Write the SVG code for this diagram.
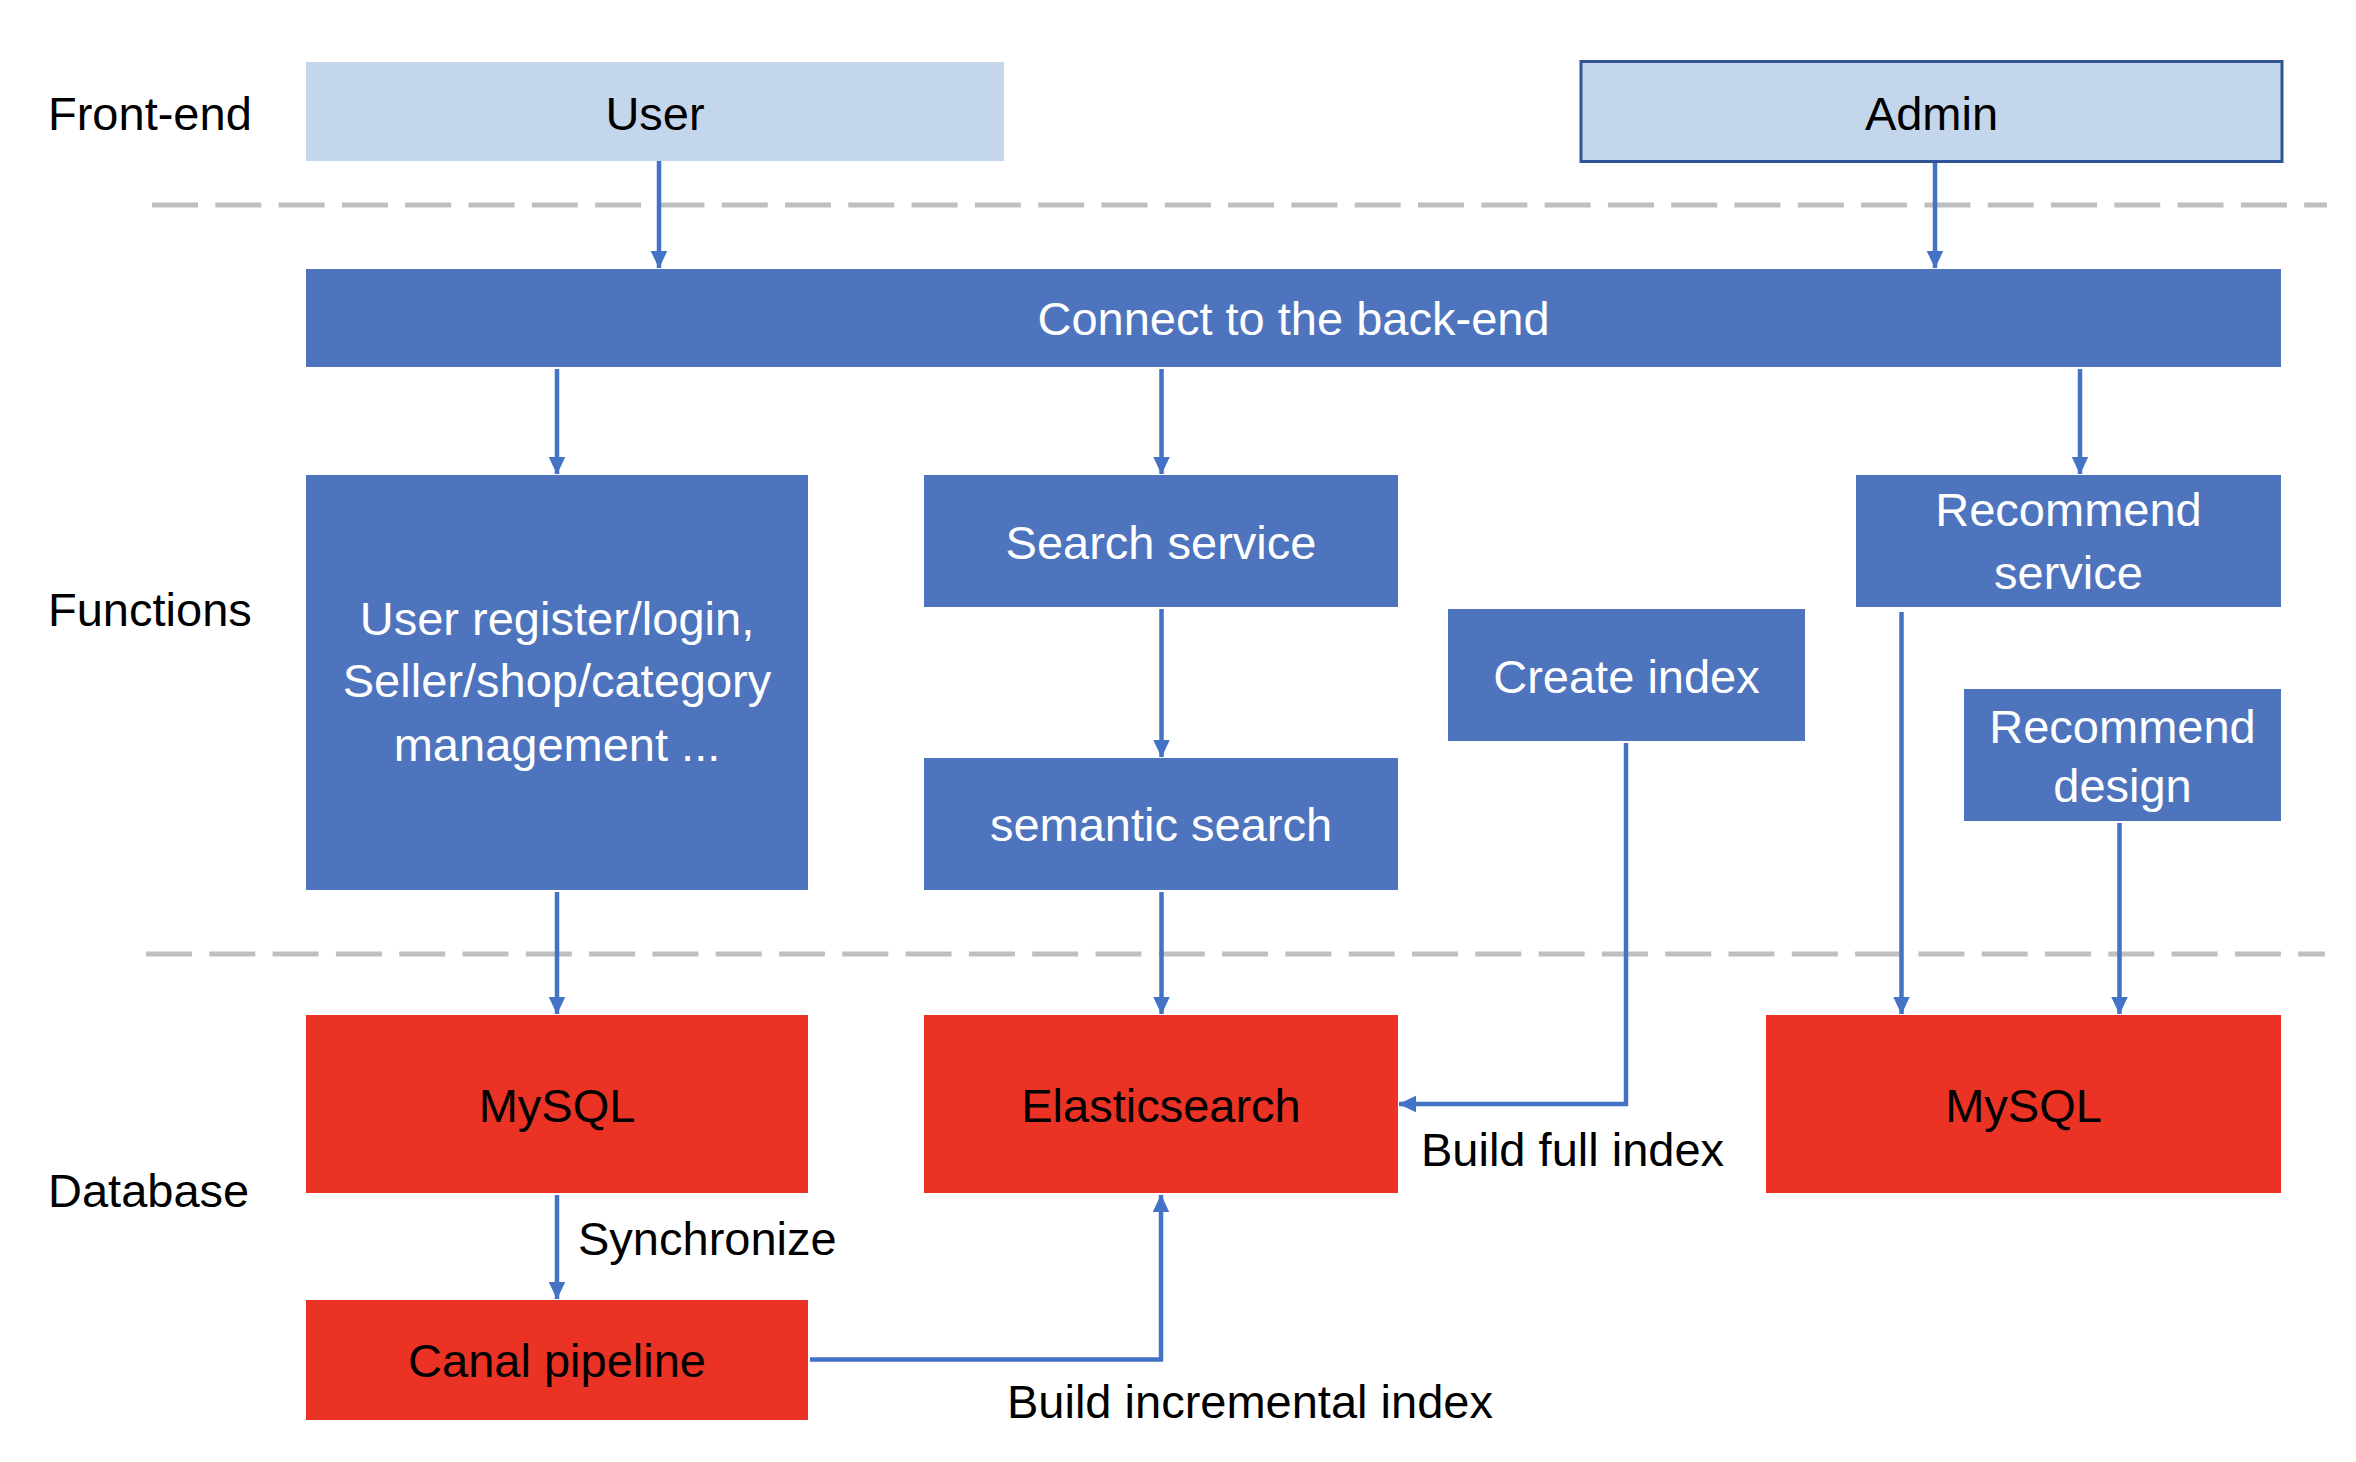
<svg xmlns="http://www.w3.org/2000/svg" width="2356" height="1462" viewBox="0 0 2356 1462">
<style>
text{font-family:"Liberation Sans",Arial,sans-serif;font-size:47px}
.c{text-anchor:middle}
.w{fill:#FFFFFF}
.k{fill:#000000}
.light{fill:#C3D6EC}
.blue{fill:#4E74BE}
.red{fill:#EA3324}
.sep{stroke:#BFBFBF;stroke-width:5;stroke-dasharray:46 17.3;fill:none}
.conn{stroke:#4472C4;stroke-width:4.5;fill:none;marker-end:url(#ah)}
</style>
<defs>
<marker id="ah" markerUnits="userSpaceOnUse" markerWidth="18" markerHeight="18" viewBox="0 0 17 16" refX="16.5" refY="8" orient="auto">
<path d="M0,0 L17,8 L0,16 z" fill="#4472C4"/>
</marker>
</defs>
<rect width="2356" height="1462" fill="#FFFFFF"/>
<g id="layer-labels">
<text x="48" y="130" class="k">Front-end</text>
<text x="48" y="626" class="k">Functions</text>
<text x="48" y="1207" class="k">Database</text>
</g>
<g id="separators">
<line x1="152" y1="205" x2="2327" y2="205" class="sep"/>
<line x1="146" y1="954" x2="2325" y2="954" class="sep"/>
</g>
<g id="user">
<rect x="306" y="62" width="698" height="99" class="light"/>
<text x="655" y="130" class="c k">User</text>
</g>
<g id="admin">
<rect x="1581" y="61.5" width="701" height="100" class="light" stroke="#2F5597" stroke-width="3"/>
<text x="1931.5" y="130" class="c k">Admin</text>
</g>
<g id="backend">
<rect x="306" y="269" width="1975" height="98" class="blue"/>
<text x="1293.5" y="335" class="c w">Connect to the back-end</text>
</g>
<g id="user-functions">
<rect x="306" y="475" width="502" height="415" class="blue"/>
<text x="557" y="635" class="c w">User register/login,</text>
<text x="557" y="697" class="c w">Seller/shop/category</text>
<text x="557" y="761" class="c w">management ...</text>
</g>
<g id="search-service">
<rect x="924" y="475" width="474" height="132" class="blue"/>
<text x="1161" y="559" class="c w">Search service</text>
</g>
<g id="semantic-search">
<rect x="924" y="758" width="474" height="132" class="blue"/>
<text x="1161" y="841" class="c w">semantic search</text>
</g>
<g id="create-index">
<rect x="1448" y="609" width="357" height="132" class="blue"/>
<text x="1626.5" y="693" class="c w">Create index</text>
</g>
<g id="recommend-service">
<rect x="1856" y="475" width="425" height="132" class="blue"/>
<text x="2068.5" y="526" class="c w">Recommend</text>
<text x="2068.5" y="589" class="c w">service</text>
</g>
<g id="recommend-design">
<rect x="1964" y="689" width="317" height="132" class="blue"/>
<text x="2122.5" y="743" class="c w">Recommend</text>
<text x="2122.5" y="802" class="c w">design</text>
</g>
<g id="mysql-left">
<rect x="306" y="1015" width="502" height="178" class="red"/>
<text x="557" y="1122" class="c k">MySQL</text>
</g>
<g id="elasticsearch">
<rect x="924" y="1015" width="474" height="178" class="red"/>
<text x="1161" y="1122" class="c k">Elasticsearch</text>
</g>
<g id="mysql-right">
<rect x="1766" y="1015" width="515" height="178" class="red"/>
<text x="2023.5" y="1122" class="c k">MySQL</text>
</g>
<g id="canal-pipeline">
<rect x="306" y="1300" width="502" height="120" class="red"/>
<text x="557" y="1377" class="c k">Canal pipeline</text>
</g>
<g id="connectors">
<path d="M659,161 V268" class="conn"/>
<path d="M1935,163 V268" class="conn"/>
<path d="M557,369 V474" class="conn"/>
<path d="M1161.5,369 V474" class="conn"/>
<path d="M2080,369 V474" class="conn"/>
<path d="M1161.5,609 V757" class="conn"/>
<path d="M557,892 V1014" class="conn"/>
<path d="M1161.5,892 V1014" class="conn"/>
<path d="M1626,743 V1104 H1399" class="conn"/>
<path d="M1901.5,612 V1014" class="conn"/>
<path d="M2119.5,823 V1014" class="conn"/>
<path d="M557,1195 V1299" class="conn"/>
<path d="M810,1359.5 H1161 V1195" class="conn"/>
</g>
<g id="connector-labels">
<text x="578" y="1255" class="k">Synchronize</text>
<text x="1421" y="1166" class="k">Build full index</text>
<text x="1007" y="1418" class="k">Build incremental index</text>
</g>
</svg>
